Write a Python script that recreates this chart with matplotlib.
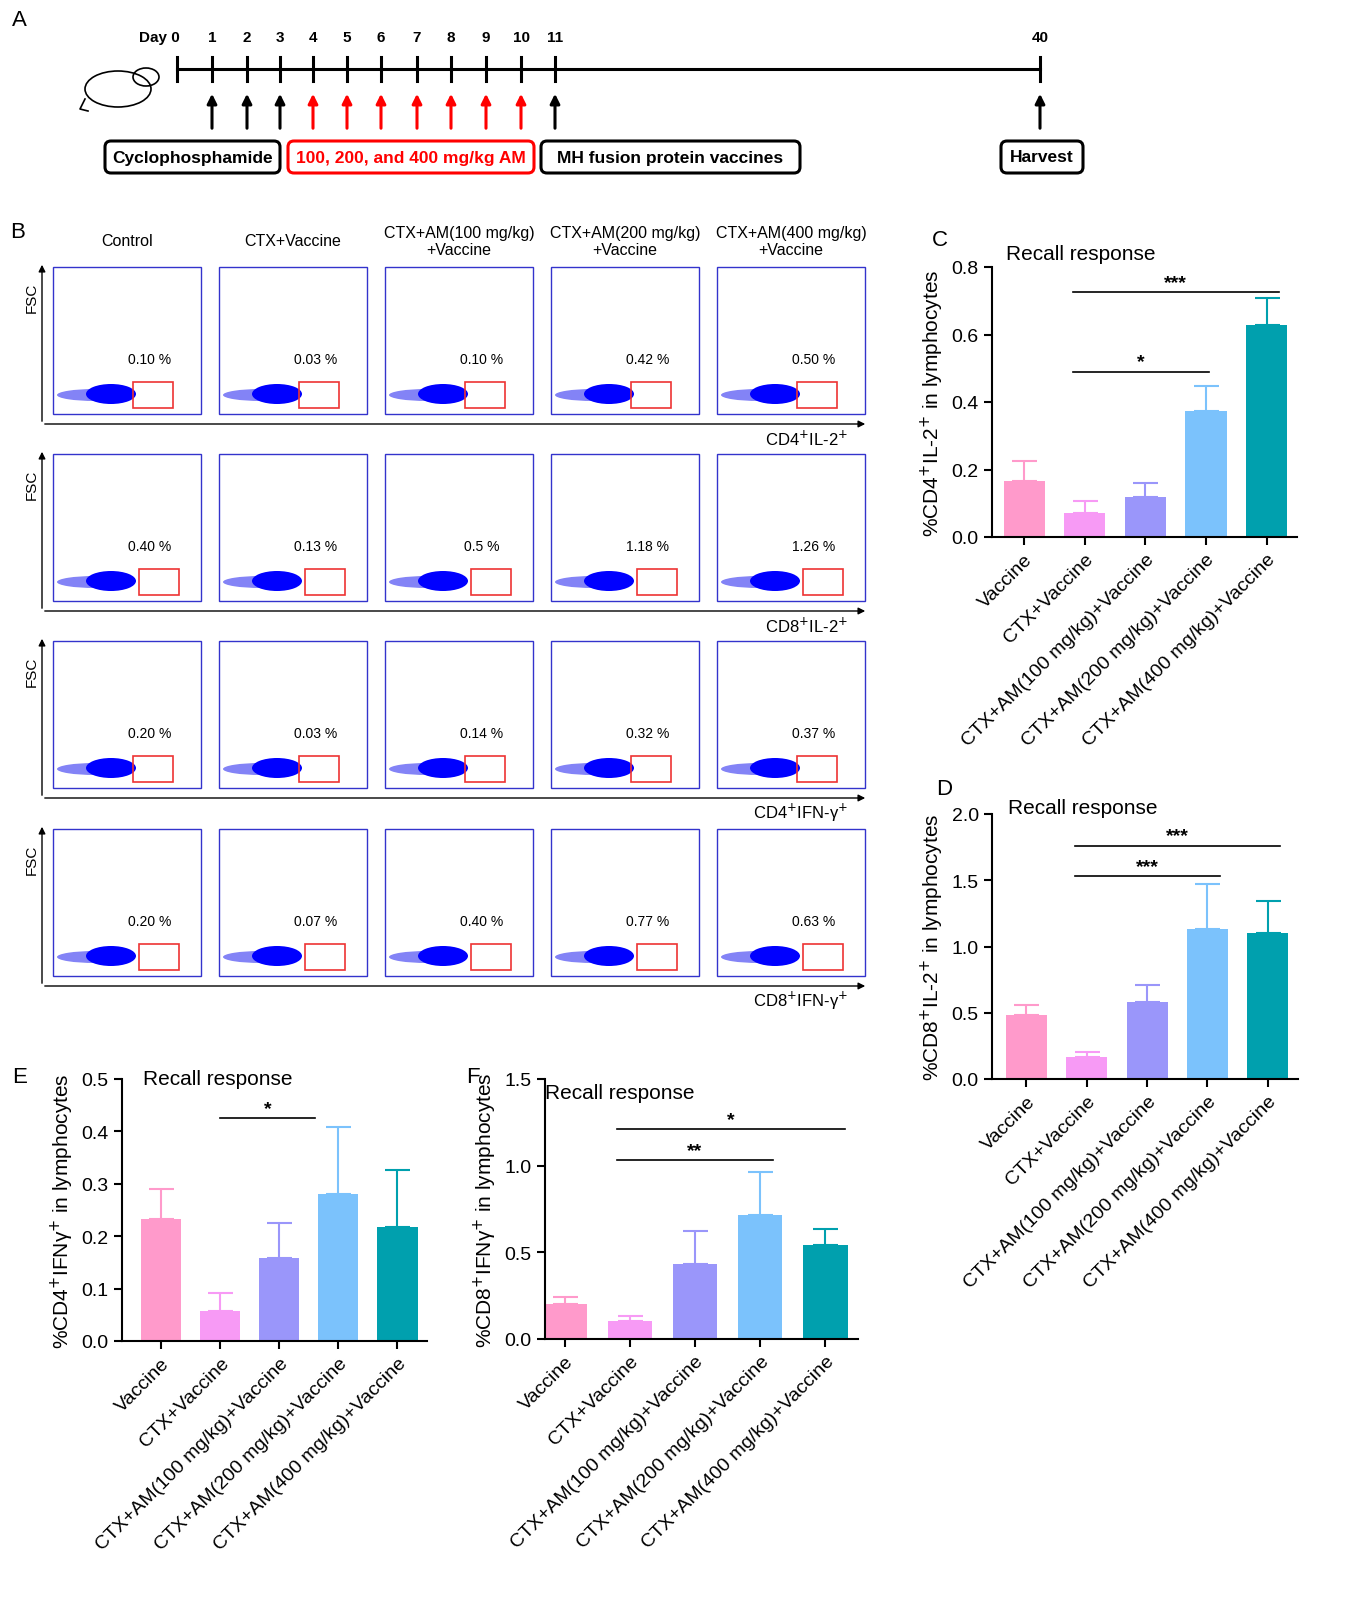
import matplotlib
matplotlib.use("Agg")
import matplotlib.pyplot as plt
from matplotlib.patches import Rectangle, Ellipse, FancyBboxPatch
import numpy as np

plt.rcParams['font.family'] = ['Liberation Sans', 'DejaVu Sans']

W, H = 1368, 1624

# ---- data ----
groups = ["Vaccine", "CTX+Vaccine", "CTX+AM(100 mg/kg)+Vaccine",
          "CTX+AM(200 mg/kg)+Vaccine", "CTX+AM(400 mg/kg)+Vaccine"]
colors = ["#FF9ACB", "#F79AF5", "#9A96FA", "#7BC2FC", "#00A0AE"]

c_mean = [0.165, 0.07, 0.12, 0.373, 0.627]
c_err = [0.06, 0.037, 0.04, 0.073, 0.08]
d_mean = [0.48, 0.165, 0.58, 1.13, 1.10]
d_err = [0.08, 0.04, 0.13, 0.34, 0.24]
e_mean = [0.232, 0.058, 0.158, 0.281, 0.218]
e_err = [0.058, 0.034, 0.067, 0.128, 0.108]
f_mean = [0.20, 0.105, 0.435, 0.715, 0.545]
f_err = [0.04, 0.025, 0.19, 0.25, 0.09]

flow_cols = ["Control", "CTX+Vaccine", "CTX+AM(100 mg/kg)\n+Vaccine",
             "CTX+AM(200 mg/kg)\n+Vaccine", "CTX+AM(400 mg/kg)\n+Vaccine"]
flow_rows = [r"CD4$^{+}$IL-2$^{+}$", r"CD8$^{+}$IL-2$^{+}$",
             r"CD4$^{+}$IFN-γ$^{+}$", r"CD8$^{+}$IFN-γ$^{+}$"]
flow_pct = [["0.10 %", "0.03 %", "0.10 %", "0.42 %", "0.50 %"],
            ["0.40 %", "0.13 %", "0.5 %", "1.18 %", "1.26 %"],
            ["0.20 %", "0.03 %", "0.14 %", "0.32 %", "0.37 %"],
            ["0.20 %", "0.07 %", "0.40 %", "0.77 %", "0.63 %"]]

days = [0, 1, 2, 3, 4, 5, 6, 7, 8, 9, 10, 11, 40]
day_x = [177, 212, 247, 280, 313, 347, 381, 417, 451, 486, 521, 555, 1040]
red_days = [4, 5, 6, 7, 8, 9, 10]

fig = plt.figure(figsize=(W / 100, H / 100), dpi=100)

# overlay axes in pixel coordinates
ov = fig.add_axes([0, 0, 1, 1])
ov.set_xlim(0, W)
ov.set_ylim(H, 0)
ov.axis("off")

for s, (x, y) in zip("ABCDEF", [(12, 20), (10, 232), (932, 240), (936, 790), (12, 1078), (466, 1078)]):
    ov.text(x, y, s, fontsize=16, va="center")

# ---- panel A ----
ty = 70
ov.plot([day_x[0], day_x[-1]], [ty, ty], color="black", lw=2.2)
for d, x in zip(days, day_x):
    ov.plot([x, x], [ty - 12, ty + 12], color="black", lw=2.2)
    lab = "Day 0" if d == 0 else str(d)
    ov.text(x - (18 if d == 0 else 0), ty - 28, lab, ha="center", fontsize=11, fontweight="bold")
    if d >= 1:
        col = "red" if d in red_days else "black"
        ov.annotate("", xy=(x, ty + 22), xytext=(x, ty + 62),
                    arrowprops=dict(arrowstyle="-|>", color=col, lw=2.2, mutation_scale=14))
for x0, x1, txt, col in [(105, 280, "Cyclophosphamide", "black"),
                         (288, 534, "100, 200, and 400 mg/kg AM", "red"),
                         (541, 800, "MH fusion protein vaccines", "black"),
                         (1001, 1083, "Harvest", "black")]:
    ov.add_patch(FancyBboxPatch((x0, 142), x1 - x0, 32, boxstyle="round,pad=0,rounding_size=6",
                                fill=False, ec=col, lw=2.2))
    ov.text((x0 + x1) / 2, 158, txt, ha="center", va="center", fontsize=12.5,
            fontweight="bold", color=col)
# simple mouse
ov.add_patch(Ellipse((118, 90), 66, 36, fill=False, ec="black", lw=1.2))
ov.add_patch(Ellipse((146, 78), 26, 18, fill=False, ec="black", lw=1.2))
ov.plot([85, 80, 88], [100, 110, 112], color="black", lw=1.2)

# ---- panel B ----
col_x = [53, 219, 385, 551, 717]
row_y = [268, 455, 642, 830]
bw, bh = 148, 147
for i, ry in enumerate(row_y):
    ay = ry + 157
    ov.annotate("", xy=(42, ry - 5), xytext=(42, ay),
                arrowprops=dict(arrowstyle="-|>", color="black", lw=1, mutation_scale=10))
    ov.annotate("", xy=(868, ay), xytext=(42, ay),
                arrowprops=dict(arrowstyle="-|>", color="black", lw=1, mutation_scale=10))
    ov.text(32, ry + 30, "FSC", rotation=90, ha="center", va="center", fontsize=11)
    ov.text(848, ay + 14, flow_rows[i], ha="right", va="center", fontsize=12)
    for j, cx in enumerate(col_x):
        ov.add_patch(Rectangle((cx, ry), bw, bh, fill=False, ec="#3333CC", lw=1))
        gx = cx + 80 + (i % 2) * 6
        ov.add_patch(Ellipse((cx + 42, ry + 128), 76, 12, color="#3030F0", lw=0, alpha=0.6))
        ov.add_patch(Ellipse((cx + 58, ry + 127), 50, 20, color="#0000FF", lw=0))
        ov.add_patch(Rectangle((gx, ry + 115), 40, 26, fill=False, ec="#EE3333", lw=1.2))
        ov.text(cx + 97, ry + 92, flow_pct[i][j], ha="center", va="center", fontsize=10)
for j, cx in enumerate(col_x):
    ov.text(cx + 74, 242, flow_cols[j], ha="center", va="center", fontsize=11.5,
            linespacing=1.2)


def bar_panel(px0, px1, py_top, py_bot, means, errs, ymax, step, ylabel, sigs, title_y, xlo=-0.5):
    ax = fig.add_axes([px0 / W, 1 - py_bot / H, (px1 - px0) / W, (py_bot - py_top) / H])
    x = np.arange(len(means))
    ax.bar(x, means, width=0.68, color=colors)
    for xi, m, e, c in zip(x, means, errs, colors):
        ax.errorbar(xi, m, yerr=[[0], [e]], color=c, capsize=9, capthick=1.5, lw=1.5)
    ax.set_xlim(xlo, 4.5)
    ax.set_ylim(0, ymax)
    ticks = np.arange(0, ymax + 1e-9, step)
    ax.set_yticks(ticks)
    ax.set_yticklabels([f"{v:.1f}" for v in ticks])
    ax.set_xticks(x)
    ax.set_xticklabels(groups, rotation=45, ha="right", rotation_mode="anchor", fontsize=14)
    ax.tick_params(axis="y", labelsize=14, width=1.5, length=6)
    ax.tick_params(axis="x", width=1.5, length=6)
    for s in ["top", "right"]:
        ax.spines[s].set_visible(False)
    for s in ["left", "bottom"]:
        ax.spines[s].set_linewidth(1.5)
    ax.set_ylabel(ylabel, fontsize=15)
    ax.text(-0.3, title_y, "Recall response", fontsize=15, va="center", clip_on=False)
    for a, b, y, star in sigs:
        ax.plot([a, b], [y, y], color="black", lw=1.2)
        ax.text((a + b) / 2, y + ymax * 0.005, star, ha="center", va="bottom", fontsize=14,
                fontweight="bold")
    return ax


bar_panel(992, 1297, 268, 538, c_mean, c_err, 0.8, 0.2,
          r"%CD4$^{+}$IL-2$^{+}$ in lymphocytes",
          [(0.8, 4.2, 0.726, "***"), (0.8, 3.05, 0.49, "*")], 0.84, xlo=-0.53)
bar_panel(992, 1298, 815, 1080, d_mean, d_err, 2.0, 0.5,
          r"%CD8$^{+}$IL-2$^{+}$ in lymphocytes",
          [(0.8, 4.2, 1.76, "***"), (0.8, 3.2, 1.53, "***")], 2.05, xlo=-0.57)
bar_panel(122, 427, 1080, 1342, e_mean, e_err, 0.5, 0.1,
          r"%CD4$^{+}$IFNγ$^{+}$ in lymphocytes",
          [(1.0, 2.6, 0.425, "*")], 0.5, xlo=-0.66)
bar_panel(545, 858, 1080, 1340, f_mean, f_err, 1.5, 0.5,
          r"%CD8$^{+}$IFNγ$^{+}$ in lymphocytes",
          [(0.8, 4.3, 1.21, "*"), (0.8, 3.2, 1.03, "**")], 1.42, xlo=-0.3)

fig.savefig("out.png", dpi=100)
